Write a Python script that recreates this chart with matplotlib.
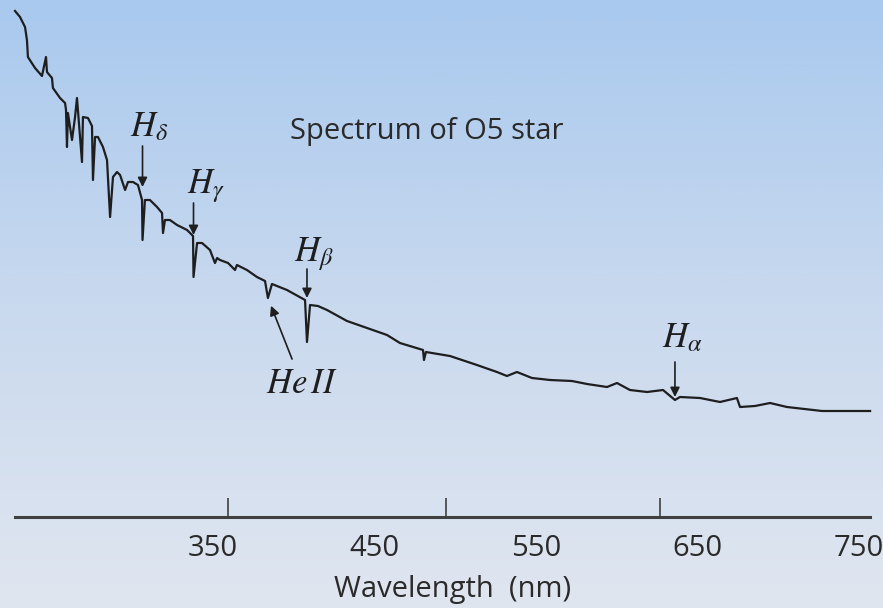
import numpy as np
import matplotlib.pyplot as plt
from matplotlib.colors import LinearSegmentedColormap

# O5 star spectrum trace: wavelength (nm) and relative flux
wavelength = np.array([
    227.2, 230.3, 233.4, 234.6, 235.2, 239.6, 243.9, 246.4, 247.0, 250.1,
    250.7, 255.1, 258.2, 258.8, 259.4, 260.0, 262.5, 264.4, 265.6, 268.7,
    269.3, 272.4, 274.9, 275.5, 276.8, 278.6, 281.7, 284.2, 286.1, 287.9,
    290.4, 292.3, 295.4, 297.2, 300.3, 303.4, 305.9, 306.2, 307.7, 310.8,
    315.2, 318.3, 318.9, 320.1, 323.2, 327.6, 333.8, 337.5, 337.8, 340.0,
    343.1, 348.0, 351.1, 352.4, 354.2, 359.2, 363.5, 364.7, 370.9, 377.1,
    382.1, 383.9, 386.4, 395.7, 406.9, 408.1, 410.0, 414.9, 420.5, 432.9,
    445.3, 457.7, 465.7, 480.0, 480.6, 481.8, 496.7, 513.4, 525.8, 532.0,
    538.2, 547.5, 558.7, 572.3, 581.6, 594.0, 600.2, 608.2, 618.8, 628.7,
    636.1, 639.2, 651.6, 664.0, 674.5, 676.4, 685.7, 695.0, 705.5, 727.2,
    757.0,
])
flux = np.array([
    5.06, 5.00, 4.90, 4.77, 4.60, 4.49, 4.41, 4.60, 4.45, 4.39,
    4.29, 4.19, 4.14, 4.07, 3.70, 4.04, 3.77, 4.00, 4.19, 3.55,
    4.00, 3.99, 3.91, 3.37, 3.80, 3.80, 3.70, 3.57, 3.00, 3.40,
    3.45, 3.42, 3.27, 3.35, 3.35, 3.32, 3.17, 2.77, 3.17, 3.17,
    3.10, 3.04, 2.84, 2.97, 2.97, 2.92, 2.87, 2.81, 2.40, 2.74,
    2.74, 2.67, 2.54, 2.59, 2.57, 2.54, 2.47, 2.52, 2.47, 2.40,
    2.36, 2.19, 2.33, 2.27, 2.17, 1.75, 2.12, 2.11, 2.07, 1.96,
    1.89, 1.82, 1.74, 1.67, 1.57, 1.65, 1.61, 1.52, 1.45, 1.41,
    1.45, 1.39, 1.37, 1.36, 1.33, 1.30, 1.34, 1.27, 1.25, 1.27,
    1.17, 1.20, 1.19, 1.15, 1.19, 1.10, 1.11, 1.14, 1.10, 1.06,
    1.06,
])

# Balmer lines and the He II line
line_labels = [r'$H_\delta$', r'$H_\gamma$', r'$H_\beta$', r'$H_\alpha$']
line_nm = [306.2, 337.8, 408.1, 636.1]
heii_label = r'$He\,II$'
heii_nm = 383.9

# Axis labels and unlabelled tick marks
tick_values = [350, 450, 550, 650, 750]
tick_marks_nm = [359.2, 494.2, 626.8]

plt.rcParams['font.family'] = ['Open Sans', 'DejaVu Sans']
plt.rcParams['mathtext.fontset'] = 'stix'

fig = plt.figure(figsize=(8.83, 6.08), dpi=100)

# sky-blue vertical gradient behind everything
bg = fig.add_axes([0, 0, 1, 1], zorder=0)
grad = np.linspace(0, 1, 256).reshape(-1, 1)
sky = LinearSegmentedColormap.from_list('sky', ['#a9c9ee', '#c9d9ee', '#e0e6f0'])
bg.imshow(grad, aspect='auto', cmap=sky, extent=[0, 1, 0, 1], origin='upper')
bg.axis('off')

ax = fig.add_axes([0, 0, 1, 1], zorder=1)
ax.patch.set_alpha(0)
ink = '#1e1e1e'
ax.plot(wavelength, flux, color=ink, lw=1.6, solid_joinstyle='round')
ax.set_xlim(217.9, 765.0)
ax.set_ylim(-0.91, 5.17)

for side in ['top', 'right', 'left']:
    ax.spines[side].set_visible(False)
ax.spines['bottom'].set_position(('data', 0))
ax.spines['bottom'].set_bounds(wavelength.min(), wavelength.max())
ax.spines['bottom'].set_linewidth(2.2)
ax.spines['bottom'].set_color('#404040')
ax.set_yticks([])
ax.set_xticks(tick_values)
ax.set_xticks(tick_marks_nm, minor=True)
ax.tick_params(axis='x', which='major', length=0, pad=12, labelsize=21,
               labelcolor='#2a2a2a')
ax.tick_params(axis='x', which='minor', direction='in', length=14,
               width=1.2, color='#404040')
ax.set_xlabel('Wavelength  (nm)', fontsize=21, x=0.513, labelpad=9,
              color='#2a2a2a')

ax.text(0.328, 0.783, 'Spectrum of O5 star', transform=ax.transAxes,
        ha='left', va='center', fontsize=21, color='#2a2a2a')

# arrows down to each Balmer line: (gap above line, arrow length, label dx, label lift) in pixels
layout = [(13, 41, -13, 10), (1, 32, -7, 10), (2, 29, -13, 8), (3, 35, -13, 15)]
for label, nm, (gap, length, dx, lift) in zip(line_labels, line_nm, layout):
    near = np.abs(wavelength - nm) < 2.5
    shoulder = flux[near].max()
    ax.annotate('', xy=(nm, shoulder), xytext=(0, gap + length),
                textcoords='offset pixels',
                arrowprops=dict(arrowstyle='-|>', color=ink, lw=1.2,
                                mutation_scale=14, shrinkA=0,
                                shrinkB=gap * 0.72))
    ax.annotate(label, xy=(nm, shoulder), xytext=(dx, gap + length + lift),
                textcoords='offset pixels', ha='left', va='baseline',
                fontsize=25, color=ink)

i_heii = np.argmin(np.abs(wavelength - heii_nm))
ax.annotate(heii_label, xy=(wavelength[i_heii], flux[i_heii]),
            xytext=(34, -86), textcoords='offset pixels',
            ha='center', va='center', fontsize=25, color=ink,
            arrowprops=dict(arrowstyle='-|>', color=ink, lw=1.2,
                            mutation_scale=14, shrinkA=4, shrinkB=6))

fig.savefig('out.png', dpi=100)
